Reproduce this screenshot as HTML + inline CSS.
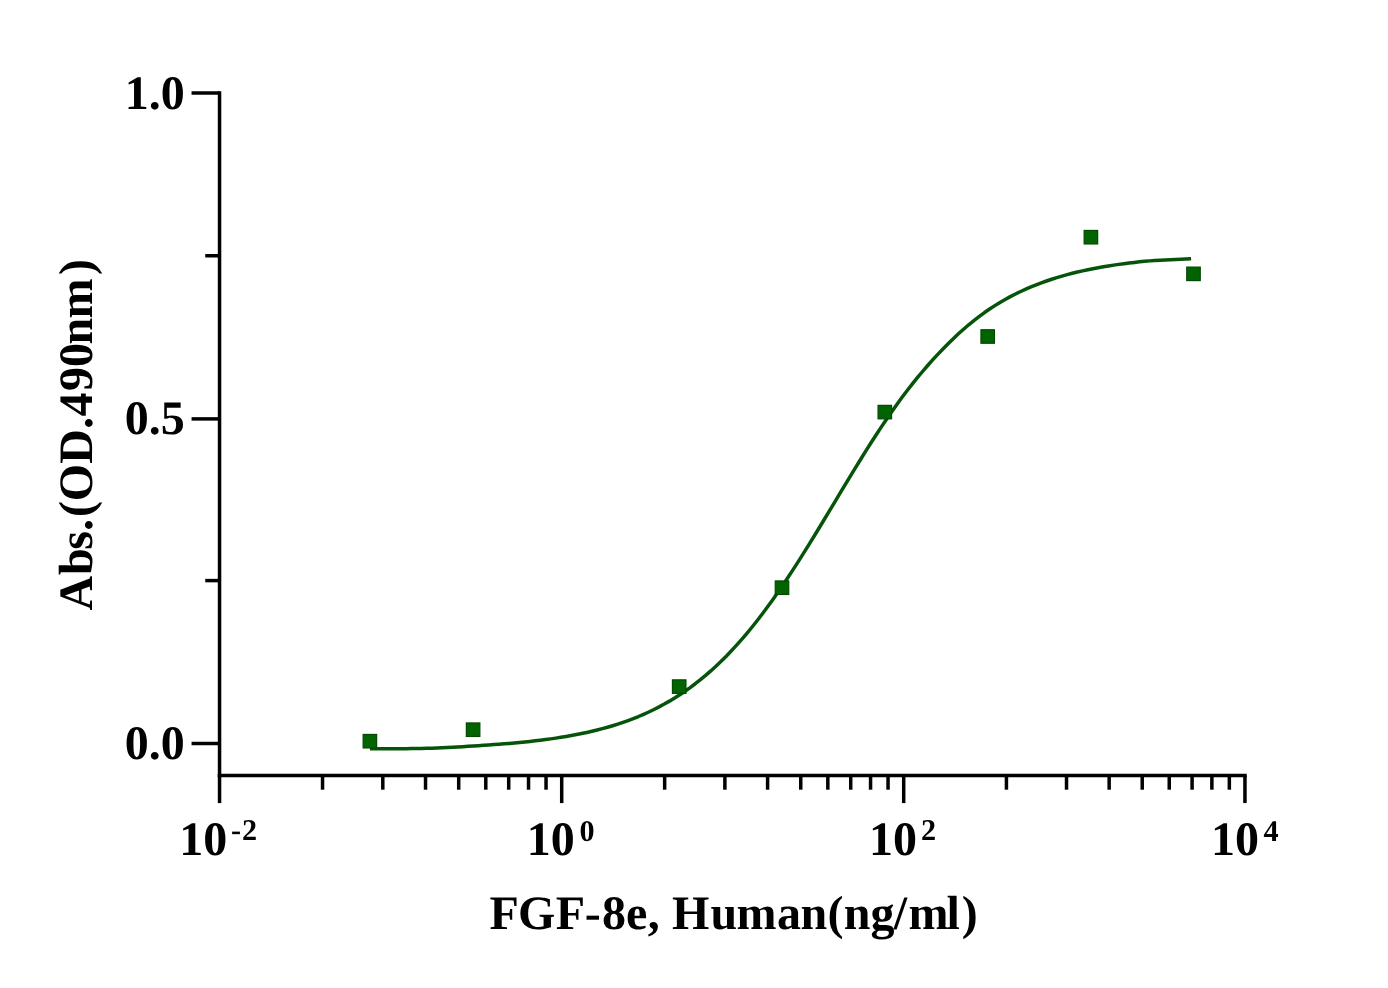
<!DOCTYPE html>
<html lang="en"><head><meta charset="utf-8"><title>FGF-8e, Human dose response</title>
<style>html,body{margin:0;padding:0;background:#fff}body{width:1388px;height:988px;overflow:hidden}svg{display:block}text{text-rendering:geometricPrecision;font-family:"Liberation Serif","Times New Roman",serif;font-weight:bold;fill:#000}</style></head><body>
<svg width="1388" height="988" viewBox="0 0 1388 988">
<rect width="1388" height="988" fill="#fff"/>
<g stroke="#000" stroke-width="3.5" fill="none" stroke-linecap="butt">
<path d="M219.55 91.25 V777.15"/>
<path d="M217.80 775.4 H1246.70"/>
<path d="M191.55 743.50 H219.55"/>
<path d="M205.25 580.60 H219.55"/>
<path d="M191.55 418.90 H219.55"/>
<path d="M205.25 255.75 H219.55"/>
<path d="M191.55 93.00 H219.55"/>
<path d="M219.55 775.4 V803.10"/>
<path d="M322.55 775.4 V789.70"/>
<path d="M382.80 775.4 V789.70"/>
<path d="M425.54 775.4 V789.70"/>
<path d="M458.70 775.4 V789.70"/>
<path d="M485.79 775.4 V789.70"/>
<path d="M508.70 775.4 V789.70"/>
<path d="M528.54 775.4 V789.70"/>
<path d="M546.04 775.4 V789.70"/>
<path d="M561.70 775.4 V803.10"/>
<path d="M664.65 775.4 V789.70"/>
<path d="M724.88 775.4 V789.70"/>
<path d="M767.60 775.4 V789.70"/>
<path d="M800.75 775.4 V789.70"/>
<path d="M827.83 775.4 V789.70"/>
<path d="M850.72 775.4 V789.70"/>
<path d="M870.56 775.4 V789.70"/>
<path d="M888.05 775.4 V789.70"/>
<path d="M903.70 775.4 V803.10"/>
<path d="M1006.43 775.4 V789.70"/>
<path d="M1066.52 775.4 V789.70"/>
<path d="M1109.15 775.4 V789.70"/>
<path d="M1142.22 775.4 V789.70"/>
<path d="M1169.24 775.4 V789.70"/>
<path d="M1192.09 775.4 V789.70"/>
<path d="M1211.88 775.4 V789.70"/>
<path d="M1229.34 775.4 V789.70"/>
<path d="M1244.95 775.4 V803.10"/>
</g>
<path d="M369.90 748.77 L375.06 748.76 L380.23 748.75 L385.39 748.74 L390.56 748.73 L395.72 748.72 L400.89 748.69 L406.05 748.65 L411.22 748.60 L416.38 748.52 L421.55 748.42 L426.71 748.30 L431.88 748.14 L437.04 747.96 L442.21 747.75 L447.37 747.52 L452.54 747.26 L457.70 746.98 L462.87 746.69 L468.03 746.37 L473.20 746.05 L478.36 745.71 L483.53 745.36 L488.69 745.00 L493.85 744.62 L499.02 744.23 L504.18 743.82 L509.35 743.39 L514.51 742.94 L519.68 742.46 L524.84 741.95 L530.01 741.41 L535.17 740.84 L540.34 740.22 L545.50 739.57 L550.67 738.87 L555.83 738.12 L561.00 737.32 L566.16 736.47 L571.33 735.56 L576.49 734.59 L581.66 733.55 L586.82 732.45 L591.99 731.27 L597.15 730.01 L602.32 728.67 L607.48 727.24 L612.64 725.72 L617.81 724.09 L622.97 722.37 L628.14 720.53 L633.30 718.58 L638.47 716.51 L643.63 714.31 L648.80 711.97 L653.96 709.49 L659.13 706.86 L664.29 704.08 L669.46 701.13 L674.62 698.02 L679.79 694.73 L684.95 691.25 L690.12 687.59 L695.28 683.73 L700.45 679.67 L705.61 675.40 L710.78 670.92 L715.94 666.22 L721.11 661.30 L726.27 656.15 L731.43 650.78 L736.60 645.18 L741.76 639.35 L746.93 633.29 L752.09 627.00 L757.26 620.48 L762.42 613.75 L767.59 606.80 L772.75 599.65 L777.92 592.29 L783.08 584.75 L788.25 577.02 L793.41 569.14 L798.58 561.10 L803.74 552.93 L808.91 544.64 L814.07 536.25 L819.24 527.77 L824.40 519.24 L829.57 510.66 L834.73 502.06 L839.89 493.46 L845.06 484.88 L850.22 476.34 L855.39 467.87 L860.55 459.47 L865.72 451.18 L870.88 443.02 L876.05 434.99 L881.21 427.13 L886.38 419.44 L891.54 411.95 L896.71 404.67 L901.87 397.59 L907.04 390.74 L912.20 384.11 L917.37 377.70 L922.53 371.50 L927.70 365.50 L932.86 359.70 L938.03 354.10 L943.19 348.68 L948.36 343.45 L953.52 338.41 L958.68 333.58 L963.85 328.95 L969.01 324.53 L974.18 320.32 L979.34 316.33 L984.51 312.56 L989.67 308.99 L994.84 305.62 L1000.00 302.45 L1005.17 299.46 L1010.33 296.64 L1015.50 293.98 L1020.66 291.47 L1025.83 289.12 L1030.99 286.90 L1036.16 284.81 L1041.32 282.84 L1046.49 280.99 L1051.65 279.26 L1056.82 277.62 L1061.98 276.09 L1067.15 274.65 L1072.31 273.30 L1077.47 272.03 L1082.64 270.84 L1087.80 269.73 L1092.97 268.69 L1098.13 267.71 L1103.30 266.79 L1108.46 265.93 L1113.63 265.13 L1118.79 264.38 L1123.96 263.67 L1129.12 263.02 L1134.29 262.40 L1139.45 261.83 L1144.62 261.31 L1149.78 260.87 L1154.95 260.50 L1160.11 260.18 L1165.28 259.91 L1170.44 259.66 L1175.61 259.42 L1180.77 259.19 L1185.94 258.95 L1191.10 258.68" fill="none" stroke="#05540a" stroke-width="3.5" stroke-linejoin="round"/>
<g fill="#016401" stroke="#024a03" stroke-width="1.2">
<rect x="363.15" y="734.45" width="13.5" height="13.5"/>
<rect x="466.35" y="722.95" width="13.5" height="13.5"/>
<rect x="672.45" y="679.85" width="13.5" height="13.5"/>
<rect x="775.25" y="580.95" width="13.5" height="13.5"/>
<rect x="878.05" y="405.35" width="13.5" height="13.5"/>
<rect x="980.95" y="329.75" width="13.5" height="13.5"/>
<rect x="1084.15" y="230.45" width="13.5" height="13.5"/>
<rect x="1186.75" y="267.10" width="13.5" height="13.5"/>
</g>
<text x="184.7" y="108.6" font-size="48" text-anchor="end">1.0</text>
<text x="184.7" y="433.5" font-size="48" text-anchor="end">0.5</text>
<text x="184.7" y="759.0" font-size="48" text-anchor="end">0.0</text>
<text x="179.35" y="854.6" font-size="48">10<tspan x="231.10" y="840.3" font-size="30.2" letter-spacing="0.8">-2</tspan></text>
<text x="526.80" y="854.6" font-size="48">10<tspan x="579.60" y="840.6" font-size="30.2">0</tspan></text>
<text x="868.90" y="854.6" font-size="48">10<tspan x="920.90" y="840.3" font-size="30.2">2</tspan></text>
<text x="1211.00" y="854.6" font-size="48">10<tspan x="1263.40" y="840.5" font-size="30.2">4</tspan></text>
<text id="xl" x="490.55" y="929" font-size="48" dx="-1.00 -0.80 0.30 -0.30 1.20 0.00 0.60 0.00 0.20 1.00 -0.60 0.60 -0.60 0.40 0.20 0.00 -0.60 1.20 -1.80 1.80">FGF-8e, Human(ng/ml)</text>
<text id="yl" transform="translate(91.9 435.3) rotate(-90)" x="-173.34" y="0" font-size="48" dx="-1.90 0.90 -1.40 0.00 1.90 -0.20 0.20 0.00 0.50 1.50 0.00 -1.50 -0.50 3.50">Abs.(OD.490nm)</text>
</svg></body></html>
